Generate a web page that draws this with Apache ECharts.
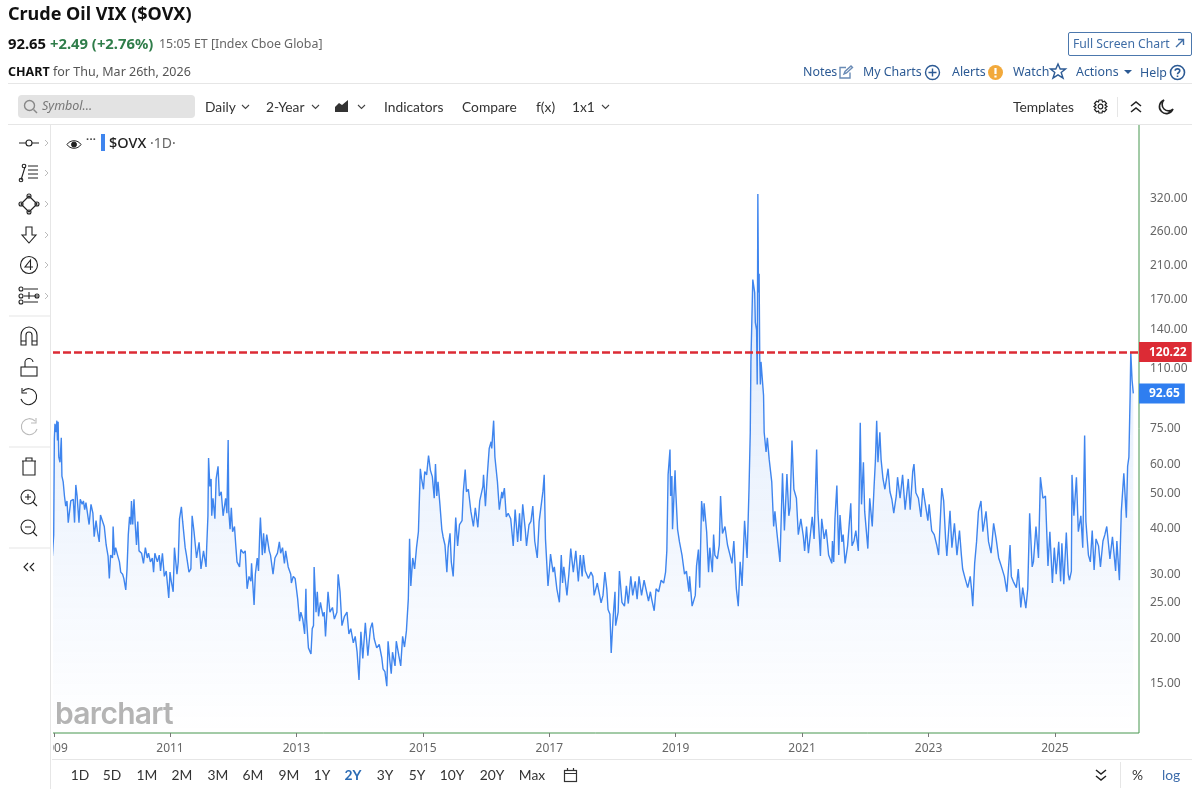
<!DOCTYPE html>
<html>
<head>
<meta charset="utf-8">
<title>Crude Oil VIX ($OVX)</title>
<script src="https://cdn.jsdelivr.net/npm/echarts@6/dist/echarts.min.js"></script>
<style>
  html, body { margin: 0; padding: 0; background: #fff; }
  #page { position: relative; width: 1199px; height: 798px; overflow: hidden; font-family: "Noto Sans", sans-serif; }
  #chart { position: absolute; left: 0; top: 0; width: 1199px; height: 798px; }
  .t { position: absolute; white-space: nowrap; line-height: 1; }
  .lato { font-family: Lato, sans-serif; font-size: 13.8px; color: #333; }
  .link { font-size: 12.4px; color: #2c5a94; }
  .rule { position: absolute; background: #e6e6e6; }
  svg.i { position: absolute; fill: none; stroke: #222; stroke-width: 1.4; overflow: visible; }
  #leftbar { position: absolute; left: 0; top: 120px; width: 53px; height: 669px; background: #fff; }
  #leftrule { position: absolute; left: 50px; top: 125px; width: 1px; height: 664px; background: #e6e6e6; }
  #topmask { position: absolute; left: 0; top: 120px; width: 1199px; height: 5px; background: #fff; }
  #leftmask { position: absolute; left: 0; top: 789px; width: 51px; height: 9px; background: #fff; }
</style>
</head>
<body>
<div id="page">
  <div id="chart"></div>
  <div id="leftbar"></div>
  <div id="topmask"></div>
  <div id="leftrule"></div>
  <div id="leftmask"></div>

  <div class="t" style="left:8px;top:4px;font-size:18px;font-weight:700;color:#111">Crude Oil VIX ($OVX)</div>
  <div class="t" style="left:8px;top:36px;font-size:14.800px;font-weight:700;color:#111">92.65</div>
  <div class="t" style="left:50px;top:36px;font-size:14.800px;font-weight:700;color:#2f7d4a">+2.49 (+2.76%)</div>
  <div class="t" style="left:159px;top:38px;font-size:12.4px;color:#666">15:05 ET [Index Cboe Globa]</div>
  <div class="t" style="left:8px;top:66px;font-size:12.5px;font-weight:700;color:#111">CHART</div>
  <div class="t" style="left:53px;top:66px;font-size:12.5px;color:#555">for Thu, Mar 26th, 2026</div>

  <div style="position:absolute;left:1068px;top:32px;width:122px;height:22px;border:1px solid #4c78ad;border-radius:2px"></div>
  <div class="t link" style="left:1073px;top:38px;font-size:12.2px;color:#3f6da6">Full Screen Chart</div>
  <svg class="i" style="left:1175px;top:38px;stroke:#3f6da6" width="10" height="10"><path d="M1 9L8 2M3 1.500H8.500V7"/></svg>

  <div class="t link" style="left:803px;top:66px">Notes</div>
  <div class="t link" style="left:863px;top:66px">My Charts</div>
  <div class="t link" style="left:952px;top:66px">Alerts</div>
  <div class="t link" style="left:1013px;top:66px">Watch</div>
  <div class="t link" style="left:1076px;top:66px">Actions</div>
  <div class="t link" style="left:1140px;top:67px">Help</div>
  <svg class="i" style="left:839px;top:65px;stroke:#6a8bb5" width="14" height="14"><path d="M11 7.500V13H1V2.500H7M5 9L6 6.500L12 1L13.500 2.500L7.500 8Z"/></svg>
  <svg class="i" style="left:925px;top:65px;stroke:#2c5a94" width="15" height="15"><circle cx="7.500" cy="7.500" r="7"/><path d="M7.500 3.500V11.500M3.500 7.500H11.500"/></svg>
  <svg class="i" style="left:988px;top:65px;stroke:none" width="15" height="15"><circle cx="7.500" cy="7.500" r="7.500" fill="#f2a93b"/><path d="M7.500 3V9M7.500 10.500V12.500" stroke="#fff" stroke-width="2.200"/></svg>
  <svg class="i" style="left:1050px;top:63px;stroke:#2c5a94" width="16" height="16"><path d="M8 1L10.200 6H15.500L11.200 9.500L13 15L8 11.800L3 15L4.800 9.500L.5 6H5.800Z"/></svg>
  <svg class="i" style="left:1124px;top:70px;stroke:none" width="8" height="5"><path d="M0 0H8L4 4Z" fill="#2c5a94"/></svg>
  <svg class="i" style="left:1170px;top:65px;stroke:#2c5a94;stroke-width:1.600" width="15" height="15"><circle cx="7.500" cy="7.500" r="7"/><path d="M5.200 5.800C5.200 3.200 9.800 3.200 9.800 5.800C9.800 7.500 7.500 7.500 7.500 9.300M7.500 10.500V12"/></svg>

  <div class="rule" style="left:8px;top:83px;width:1184px;height:1px"></div>
  <div class="rule" style="left:8px;top:124px;width:1184px;height:1px"></div>

  <div style="position:absolute;left:18px;top:95px;width:177px;height:23px;background:#e3e3e3;border-radius:4px"></div>
  <svg class="i" style="left:24px;top:100px;stroke:#888" width="14" height="14"><circle cx="5.500" cy="5.500" r="5"/><path d="M9.500 9.500L13 13"/></svg>
  <div class="t" style="left:42px;top:100px;font-size:12.5px;font-style:italic;color:#777">Symbol...</div>

  <div class="t lato" style="left:205px;top:100px">Daily</div>
  <div class="t lato" style="left:266px;top:100px">2-Year</div>
  <div class="t lato" style="left:384px;top:100px">Indicators</div>
  <div class="t lato" style="left:462px;top:100px">Compare</div>
  <div class="t lato" style="left:536px;top:100px">f(x)</div>
  <div class="t lato" style="left:572px;top:100px">1x1</div>
  <div class="t lato" style="left:1013px;top:100px">Templates</div>
  <svg class="i" style="left:335px;top:100px;stroke:none" width="14" height="12"><path d="M0 12V7L4 3L7 5L13 0V12Z" fill="#333"/></svg>
  <svg class="i" style="left:1093px;top:99px;stroke-width:1.200" width="15" height="15"><circle cx="7.500" cy="7.500" r="2.300"/><path d="M6 1H9L9.500 3L11.500 2.300L13.500 4.500L12 6L14 7.500L12 9L13.500 10.500L11.500 12.700L9.500 12L9 14H6L5.500 12L3.500 12.700L1.500 10.500L3 9L1 7.500L3 6L1.500 4.500L3.500 2.300L5.500 3Z"/></svg>
  <div class="rule" style="left:1117px;top:97px;width:1px;height:20px"></div>
  <svg class="i" style="left:1131px;top:101px;stroke-width:1.600" width="10" height="12"><path d="M0 5L5 1L10 5M0 11L5 7L10 11"/></svg>
  <svg class="i" style="left:1159px;top:99px;stroke-width:1.600" width="15" height="15"><path d="M5 1A7 7 0 1 0 14 10A6 6 0 0 1 5 1Z"/></svg>

  <svg class="i" style="left:67px;top:140px;stroke-width:1" width="14" height="9"><path d="M0 4.500C3 -.5 11 -.5 14 4.500C11 9.500 3 9.500 0 4.500Z"/><circle cx="7" cy="4.500" r="2.500" fill="#222"/></svg>
  <div class="t" style="left:86px;top:133px;font-size:11px;font-weight:700;color:#444;letter-spacing:.3px">···</div>
  <div style="position:absolute;left:101px;top:134px;width:3.500px;height:17px;background:#3f85ee"></div>
  <div class="t" style="left:109px;top:135px;font-size:14.5px;font-weight:500;color:#222">$OVX</div>
  <div class="t" style="left:150px;top:136px;font-size:14px;color:#666">·1D·</div>

  <div class="t" style="left:55px;top:698px;font-family:Inter,sans-serif;font-size:30px;font-weight:600;letter-spacing:-.7px;color:#b4b4b4">barchart</div>

  <div class="rule" style="left:52px;top:759px;width:1140px;height:1px"></div>
  <div id="ranges"></div>
  <svg class="i" style="left:564px;top:768px;stroke:#333;stroke-width:1.200" width="13" height="14"><rect x=".5" y="2.500" width="12" height="11"/><path d="M.5 5.500H12.500M3.500 0V2.500M9.500 0V2.500"/></svg>
  <svg class="i" style="left:1096px;top:770px;stroke-width:1.500" width="10" height="11"><path d="M0 0L5 4L10 0M0 6L5 10L10 6"/></svg>
  <div class="rule" style="left:1120px;top:762px;width:1px;height:26px"></div>
  <div class="t lato" style="left:1132px;top:768px">%</div>
  <div class="t lato" style="left:1162px;top:768px;color:#3d6cab">log</div>

  <div id="tools"></div>
</div>

<script>
// decimal years, one line per calendar year
const dates = [
  2009.14,2009.15,2009.16,2009.17,2009.18,2009.20,2009.21,2009.22,2009.23,2009.24,2009.26,2009.28,2009.29,2009.31,2009.33,2009.35,2009.37,2009.39,2009.41,2009.43,2009.47,2009.49,2009.51,2009.53,2009.56,2009.58,2009.61,2009.63,2009.65,2009.67,2009.69,2009.72,2009.75,2009.78,2009.80,2009.83,2009.85,2009.88,2009.90,2009.93,2009.96,2009.99,
  2010.02,2010.04,2010.06,2010.09,2010.10,2010.12,2010.14,2010.17,2010.20,2010.22,2010.25,2010.27,2010.30,2010.32,2010.34,2010.36,2010.38,2010.39,2010.41,2010.43,2010.45,2010.47,2010.49,2010.51,2010.55,2010.58,2010.61,2010.64,2010.66,2010.69,2010.72,2010.74,2010.76,2010.80,2010.83,2010.85,2010.88,2010.91,2010.94,2010.98,
  2011.00,2011.02,2011.05,2011.07,2011.11,2011.13,2011.15,2011.18,2011.20,2011.24,2011.26,2011.30,2011.33,2011.35,2011.38,2011.42,2011.46,2011.49,2011.53,2011.57,2011.58,2011.60,2011.61,2011.63,2011.65,2011.66,2011.68,2011.71,2011.73,2011.76,2011.78,2011.81,2011.84,2011.88,2011.90,2011.92,2011.93,2011.95,2011.97,2011.99,
  2012.02,2012.04,2012.06,2012.10,2012.12,2012.16,2012.19,2012.22,2012.25,2012.28,2012.29,2012.33,2012.35,2012.38,2012.40,2012.42,2012.43,2012.46,2012.48,2012.50,2012.53,2012.57,2012.59,2012.63,2012.66,2012.70,2012.73,2012.75,2012.78,2012.81,2012.83,2012.87,2012.91,2012.92,2012.95,2012.98,
  2013.02,2013.05,2013.07,2013.10,2013.13,2013.15,2013.16,2013.19,2013.23,2013.25,2013.27,2013.28,2013.31,2013.33,2013.35,2013.38,2013.42,2013.44,2013.46,2013.50,2013.53,2013.57,2013.60,2013.64,2013.66,2013.69,2013.72,2013.76,2013.80,2013.83,2013.86,2013.90,2013.93,2013.96,2013.99,
  2014.02,2014.05,2014.09,2014.13,2014.17,2014.20,2014.23,2014.27,2014.31,2014.35,2014.37,2014.40,2014.43,2014.45,2014.48,2014.50,2014.52,2014.56,2014.58,2014.62,2014.65,2014.68,2014.71,2014.74,2014.77,2014.79,2014.81,2014.84,2014.87,2014.90,2014.93,2014.96,2014.98,
  2015.01,2015.03,2015.06,2015.09,2015.12,2015.15,2015.18,2015.20,2015.22,2015.24,2015.27,2015.30,2015.32,2015.35,2015.38,2015.40,2015.43,2015.45,2015.48,2015.52,2015.55,2015.58,2015.62,2015.64,2015.67,2015.69,2015.72,2015.76,2015.80,2015.83,2015.87,2015.90,2015.95,2015.96,2015.99,
  2016.02,2016.05,2016.08,2016.09,2016.12,2016.14,2016.18,2016.21,2016.25,2016.26,2016.29,2016.32,2016.35,2016.39,2016.43,2016.46,2016.50,2016.53,2016.55,2016.58,2016.62,2016.64,2016.68,2016.71,2016.74,2016.77,2016.81,2016.84,2016.86,2016.90,2016.92,2016.94,2016.98,
  2017.00,2017.02,2017.06,2017.08,2017.12,2017.16,2017.19,2017.21,2017.23,2017.28,2017.31,2017.34,2017.38,2017.42,2017.46,2017.49,2017.52,2017.54,2017.57,2017.62,2017.66,2017.69,2017.71,2017.76,2017.82,2017.85,2017.88,2017.91,2017.93,2017.96,2017.98,
  2018.01,2018.04,2018.05,2018.09,2018.11,2018.15,2018.19,2018.22,2018.25,2018.29,2018.32,2018.36,2018.39,2018.42,2018.46,2018.50,2018.53,2018.57,2018.60,2018.62,2018.66,2018.69,2018.73,2018.77,2018.81,2018.84,2018.86,2018.88,2018.91,2018.92,2018.94,2018.95,2018.99,
  2019.00,2019.03,2019.06,2019.10,2019.14,2019.17,2019.21,2019.22,2019.26,2019.31,2019.33,2019.36,2019.38,2019.41,2019.44,2019.45,2019.49,2019.52,2019.54,2019.58,2019.60,2019.62,2019.66,2019.69,2019.71,2019.74,2019.78,2019.82,2019.86,2019.89,2019.92,2019.96,2019.99,
  2020.02,2020.05,2020.09,2020.13,2020.16,2020.18,2020.19,2020.22,2020.25,2020.26,2020.28,2020.29,2020.30,2020.31,2020.32,2020.33,2020.34,2020.35,2020.39,2020.40,2020.43,2020.45,2020.48,2020.52,2020.55,2020.57,2020.60,2020.65,2020.67,2020.69,2020.72,2020.76,2020.79,2020.81,2020.84,2020.87,2020.91,2020.94,2020.98,
  2021.02,2021.04,2021.07,2021.10,2021.16,2021.19,2021.23,2021.25,2021.29,2021.31,2021.35,2021.38,2021.42,2021.47,2021.48,2021.50,2021.52,2021.55,2021.58,2021.60,2021.63,2021.65,2021.68,2021.72,2021.77,2021.79,2021.82,2021.85,2021.89,2021.92,2021.94,2021.97,2021.99,
  2022.04,2022.07,2022.11,2022.14,2022.16,2022.18,2022.20,2022.23,2022.25,2022.28,2022.31,2022.36,2022.39,2022.42,2022.45,2022.49,2022.51,2022.55,2022.59,2022.63,2022.68,2022.71,2022.75,2022.77,2022.80,2022.84,2022.88,2022.91,2022.95,2022.99,
  2023.01,2023.05,2023.09,2023.13,2023.16,2023.21,2023.24,2023.27,2023.29,2023.34,2023.37,2023.41,2023.45,2023.49,2023.52,2023.54,2023.58,2023.62,2023.66,2023.68,2023.70,2023.73,2023.76,2023.79,2023.83,2023.86,2023.91,2023.95,2023.99,
  2024.03,2024.07,2024.11,2024.15,2024.20,2024.24,2024.29,2024.31,2024.34,2024.39,2024.42,2024.46,2024.49,2024.54,2024.57,2024.60,2024.64,2024.66,2024.70,2024.74,2024.77,2024.81,2024.85,2024.89,2024.92,2024.96,2024.99,
  2025.02,2025.06,2025.09,2025.11,2025.14,2025.18,2025.21,2025.23,2025.26,2025.27,2025.30,2025.34,2025.37,2025.41,2025.44,2025.47,2025.49,2025.53,2025.56,2025.59,2025.62,2025.65,2025.69,2025.72,2025.76,2025.79,2025.82,2025.87,2025.91,2025.96,2025.98,
  2026.02,2026.05,2026.09,2026.13,2026.15,2026.17,2026.19,2026.20,2026.22,2026.24
];

// $OVX close, same line layout as dates
const ovx = [
  33.2,35.6,38,69.5,76.5,72.5,78,68.8,77.5,62,60,70,55,53,48.5,45.5,47,41,41.3,47,47.5,41,52,48.5,41,47.5,46,47,44.5,46.5,44,40.5,46,43.5,37.5,41.5,39,36.3,43,42.8,40,35.6,
  33.2,28.8,33.4,32.8,40,33.4,35,33.4,32,30,29.6,28.8,26.8,30.6,38,42.5,40.5,47,40.5,47.5,40.5,35.6,41.3,34.3,33.8,31.7,35,32.8,33.8,32,32.8,30,33.8,32,33.4,30.2,33.8,29.2,30.2,25.5,
  30,28.3,26.5,35,29.6,32,42,45.3,41.3,35,33.4,30,30.6,42.8,38.7,32.8,36.2,30.6,34.3,31,35,42.8,61.6,51.5,54,42.8,47.8,42,54,58.5,48.5,49.8,42.8,47.8,43.5,69,44,39.3,45,38.7,
  40,35.6,32,31,34.6,33.8,34.3,27,29.2,28.3,31.7,24.4,29.6,32.8,30.2,38.7,42.3,33.4,38.3,33.8,38,34.3,33.4,29.6,32.8,33.8,36.3,33.8,35,31.7,34.3,31,29.6,28,29.2,28.8,
  25.3,22,23.3,22.3,20.3,27,22.3,18.6,17.9,21,21.4,31,23.3,26.5,22.7,24.8,22.7,23.3,20,26.5,23.3,24,22.3,23.3,29.6,26.5,21.4,22.7,23.3,20.3,21,19.2,20,18.1,15.2,
  20.6,17.4,21.8,17.7,21,21.8,19.7,18.6,19,17.5,16.3,16,14.6,19.4,17,15.8,18.1,16.6,19.4,17.7,16.6,20,18.7,20.7,25.3,37,27.5,32.8,30.6,35,38.7,57.6,54,
  50.6,56.6,55.4,62.6,57,54.8,47.8,59.3,48.5,53,46,39.3,37.5,35.6,30,35,38.3,32,29.2,42.3,35.4,40.5,41.5,49.8,57.3,49.8,50.6,44,40,45,39.8,47,51.5,55.4,45.5,
  55.4,65.5,68.3,65.5,78,62,53,44.5,49.8,47.8,51,42.5,43.5,42,35.4,44.5,36.3,43.5,36.5,46,39.3,35.4,40.5,41.3,45.5,36.5,32.8,41.3,44,50,55.4,37,27.5,
  30.2,33.6,30,31,27,24.8,33.4,28,31,25.9,29.6,34.8,30,34.3,28.3,33.4,29.2,33.4,30.2,28.8,30,29.2,25.9,28,24.7,25.9,30,27,23.7,23,18,
  22.5,26.5,21.4,23.3,30.2,24.8,24.2,27.5,24.6,29.2,25.9,28.3,25.3,29.2,25.9,28.5,28.8,25,26.5,25.3,23.5,27,26.5,28.5,28,30,34.3,55.4,65,48.5,55,39.3,57,
  50.6,39.3,36.3,33.4,29.6,30.2,26.5,29.2,24.2,25.9,31.2,34.6,27.2,47,41.3,46.3,38.7,30,35,30,38,33.4,32.6,35.6,48.5,38.3,40,35.6,33.4,31.7,36.5,27,24.2,
  32,27.5,41.5,32.8,50.6,72.5,113,190,175,145,138,98,326,175,197,116,98,113,91.6,72.5,64,70,61,53,40,44,38.7,32,32,56,39,55.7,42.8,45,68.8,50.6,47.8,38,42,
  37.5,34.3,40,33.8,42.5,37,65,44,33.2,42,37,39.3,33.4,31.7,36.5,32,42,51.8,33.4,43,36.3,38,31.7,35.4,46.3,35.4,36.5,39,34.3,77,46,60,44,
  34.8,47.8,40,52,60.7,78,60,72.5,61,54,50.6,57.6,49.8,47.5,43.5,48.5,54.6,47.8,55.4,44.5,54,44.5,56.6,59.3,49.5,47.8,42.5,51,46,41.5,
  46,39,38,35.6,33.4,51,47,37,33.2,44.2,35,40.8,33.4,39,33.4,30.6,28.8,27.2,29.2,27,24.2,31.7,36.3,44,47,38.7,44,36.3,33.8,
  40.8,37,32.8,31.2,29.2,26.5,35.6,29.2,28.3,27.2,30.6,24,27.2,23.9,27,43.5,31,32,40,32.8,54.6,47.8,48.5,31.2,38.7,28,35,
  29.6,36.3,28.3,36,27.8,38.5,29.6,28.5,30.2,55.4,42.8,54.6,38.7,42.8,35,71,41.3,33.4,32,39,30.4,37,35.4,31,36.5,38,40,32.6,37.5,30.2,36.5,
  28.5,44,56,42.3,58.5,62,92,120.22,101,92.65
];

const priceTicks = [15, 20, 25, 30, 40, 50, 60, 75, 110, 140, 170, 210, 260, 320];
// the first tick sits on the first bar of the window, not on a calendar year
const yearTicks = [2009.165, 2011, 2013, 2015, 2017, 2019, 2021, 2023, 2025];
const rangeLabels = ["1D", "5D", "1M", "2M", "3M", "6M", "9M", "1Y", "2Y", "3Y", "5Y", "10Y", "20Y", "Max"];
const rangeCenters = [80, 112, 147, 182, 218, 253, 289, 322, 353, 385, 417, 452, 492, 532];

const highLevel = 120.22;
const lastPrice = 92.65;

const ranges = document.getElementById("ranges");
rangeLabels.forEach((label, i) => {
  const el = document.createElement("div");
  el.className = "t lato";
  el.textContent = label;
  el.style.cssText = "left:" + rangeCenters[i] + "px;top:768px;transform:translateX(-50%);" +
    (label === "2Y" ? "color:#2c6cb5;font-weight:700" : "");
  ranges.appendChild(el);
});

// left drawing toolbar
const toolY = [143, 173, 204, 235, 265, 296, 336, 367, 397, 427, 467, 498, 528, 567];
const toolPaths = [
  '<path d="M-10 0H-3M3 0H10"/><circle r="3"/>',
  '<path d="M-8 7L-4 -6M-1 -7H9M-1 -3H9M-1 1H9M-1 5H9"/><circle cx="-5" cy="-7" r="1.800"/><circle cx="-8" cy="7" r="1.800"/>',
  '<path d="M0 -8L8 0L0 8L-8 0Z" stroke-linejoin="round"/><circle cy="-8" r="2"/><circle cx="8" r="2"/><circle cy="8" r="2"/><circle cx="-8" r="2"/>',
  '<path d="M-3 -8H3V0H7L0 8L-7 0H-3Z"/>',
  '<circle r="8.500"/><path d="M1.500 5V-5L-4 2H4"/>',
  '<path d="M-5 -7H9M-5 0H9M-5 6H9M0 -4V3" /><circle cx="-8" cy="-7" r="2"/><circle cx="-8" cy="0" r="2"/><circle cx="-8" cy="6" r="2"/><circle cx="8" cy="0" r="2"/>',
  '<path d="M-8 9V-1A8 8 0 0 1 8 -1V9H3V-1A3 3 0 0 0 -3 -1V9ZM-8 5H-3M3 5H8"/>',
  '<rect x="-8" y="0" width="16" height="9"/><path d="M-4 0V-4A4 4 0 0 1 4 -5"/>',
  '<path d="M-6 -6A8 8 0 1 1 -8 2M-7 -9V-4H-2"/>',
  '<path d="M6 -6A8 8 0 1 0 8 2M7 -9V-4H2" stroke="#bbb"/>',
  '<path d="M-6 -6V8H6V-6M-7 -6H7M-3 -6V-9H3V-6"/>',
  '<circle cx="-1" cy="-1" r="7"/><path d="M4 4L8 8M-4 -1H2M-1 -4V2"/>',
  '<circle cx="-1" cy="-1" r="7"/><path d="M4 4L8 8M-4 -1H2"/>',
  '<path d="M-1 -4L-5 0L-1 4M5 -4L1 0L5 4"/>'
];
const toolRules = [316, 447, 548];
let toolHtml = '<svg class="i" style="left:0;top:0;stroke-width:1.100" width="51" height="798">';
toolY.forEach((y, i) => {
  toolHtml += '<g transform="translate(29,' + y + ')">' + toolPaths[i] + "</g>";
  if (i < 6) toolHtml += '<path d="M45 ' + (y - 3) + "L48 " + y + "L45 " + (y + 3) + '" stroke="#bbb" stroke-width="1"/>';
});
toolRules.forEach(y => { toolHtml += '<path d="M9 ' + y + 'H50" stroke="#e6e6e6"/>'; });
document.getElementById("tools").innerHTML = toolHtml + "</svg>";

// small chevrons after the toolbar drop-downs
[245, 315, 361, 605].forEach(x => {
  document.getElementById("tools").insertAdjacentHTML("beforeend",
    '<svg class="i" style="left:' + (x - 3) + 'px;top:105px;stroke:#444;stroke-width:1.100" width="7" height="4"><path d="M0 0L3.500 3.500L7 0"/></svg>');
});

const chart = echarts.init(document.getElementById("chart"));

chart.setOption({
  animation: false,
  // the grid border gives the green frame; its top and left sides sit under the page masks
  grid: { show: true, borderColor: "#46964f", borderWidth: 1, left: 52, right: 60, top: 124, bottom: 65 },
  xAxis: {
    type: "value",
    min: 2009.133,
    max: 2026.33,
    axisLine: { show: false },
    axisTick: { show: true, length: 4, lineStyle: { color: "#777" }, customValues: yearTicks },
    axisLabel: {
      color: "#666",
      fontFamily: "Noto Sans",
      fontSize: 12,
      margin: 10,
      customValues: yearTicks,
      formatter: v => String(Math.floor(v)),
    },
    splitLine: { show: false },
  },
  yAxis: {
    type: "log",
    logBase: 10,
    position: "right",
    min: 10.87,
    max: 507,
    axisLine: { show: false },
    axisTick: { show: false },
    minorTick: { show: false },
    axisLabel: {
      color: "#666",
      fontFamily: "Noto Sans",
      fontSize: 12,
      margin: 11,
      // nudges the digits down onto their price level
      verticalAlign: "top",
      lineHeight: 4,
      customValues: priceTicks,
      formatter: v => Number(v).toFixed(2),
    },
    splitLine: { show: false },
  },
  series: [
    {
      type: "line",
      data: dates.map((d, i) => [d, ovx[i]]),
      showSymbol: false,
      smooth: false,
      lineStyle: { color: "#3f85ee", width: 1.4 },
      areaStyle: {
        origin: "start",
        color: new echarts.graphic.LinearGradient(0, 0, 0, 1, [
          { offset: 0, color: "rgba(63,133,238,0.28)" },
          { offset: 1, color: "rgba(63,133,238,0)" },
        ]),
      },
      markLine: {
        silent: true,
        symbol: "none",
        animation: false,
        data: [
          {
            yAxis: highLevel,
            lineStyle: { color: "#dc2b35", width: 2.5, type: [8, 3] },
            label: {
              position: "end",
              distance: 0,
              formatter: highLevel.toFixed(2),
              color: "#fff",
              fontWeight: "bold",
              fontFamily: "Noto Sans",
              fontSize: 12,
              backgroundColor: "#dc2b35",
              padding: [4, 5, 4, 10],
            },
          },
          {
            yAxis: lastPrice,
            lineStyle: { color: "rgba(0,0,0,0)", width: 0 },
            label: {
              position: "end",
              distance: 0,
              formatter: lastPrice.toFixed(2),
              color: "#fff",
              fontWeight: "bold",
              fontFamily: "Noto Sans",
              fontSize: 12,
              backgroundColor: "#2f7ef0",
              padding: [4, 5, 4, 10],
            },
          },
        ],
      },
    },
  ],
});
</script>
</body>
</html>
